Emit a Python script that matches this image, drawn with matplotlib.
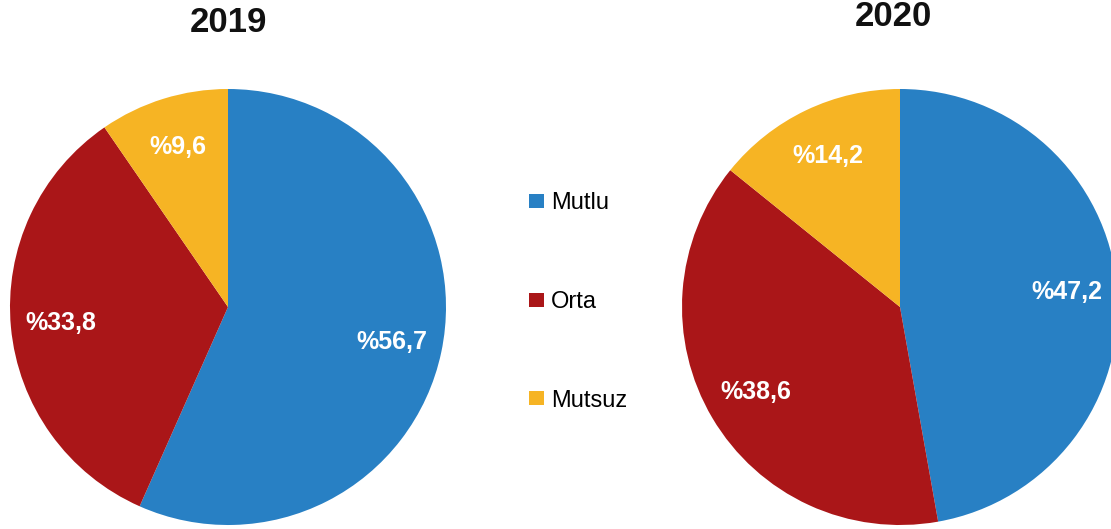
import matplotlib
matplotlib.use("Agg")
import matplotlib.pyplot as plt

# Data
categories = ["Mutlu", "Orta", "Mutsuz"]
values_2019 = [56.7, 33.8, 9.6]
values_2020 = [47.2, 38.6, 14.2]
colors = ["#2880C4", "#AA1618", "#F6B424"]

plt.rcParams["font.family"] = ["Liberation Sans", "DejaVu Sans"]

W, H = 1111, 529
fig = plt.figure(figsize=(W / 100, H / 100), dpi=100)

R = 218


def pie_axes(cx, cy):
    return fig.add_axes([(cx - R) / W, (H - cy - R) / H, 2 * R / W, 2 * R / H])


def fmt(v):
    return "%" + f"{v:.1f}".replace(".", ",")


wedges = None
for cx, cy, vals, year, tx, ty in [(228, 307, values_2019, "2019", 228, 22),
                                   (900, 307, values_2020, "2020", 893, 17)]:
    ax = pie_axes(cx, cy)
    w, texts = ax.pie(vals, colors=colors, startangle=90, counterclock=False,
                      labels=[fmt(v) for v in vals], labeldistance=0.77,
                      textprops=dict(color="white", fontsize=18, fontweight="bold",
                                     ha="center", va="center"),
                      wedgeprops=dict(linewidth=0))
    ax.set_xlim(-1, 1)
    ax.set_ylim(-1, 1)
    ax.set_aspect("equal")
    for t in texts:
        t.set_ha("center")
    if wedges is None:
        wedges = w
    fig.text(tx / W, 1 - ty / H, year, ha="center", va="center",
             fontsize=25, fontweight="bold", color="#111111")

fig.legend(wedges, categories, loc="center", bbox_to_anchor=(578 / W, 1 - 302 / H),
           frameon=False, fontsize=17, labelspacing=3.25, handlelength=0.65,
           handleheight=0.55, handletextpad=0.3)

fig.savefig("out.png", dpi=100)
